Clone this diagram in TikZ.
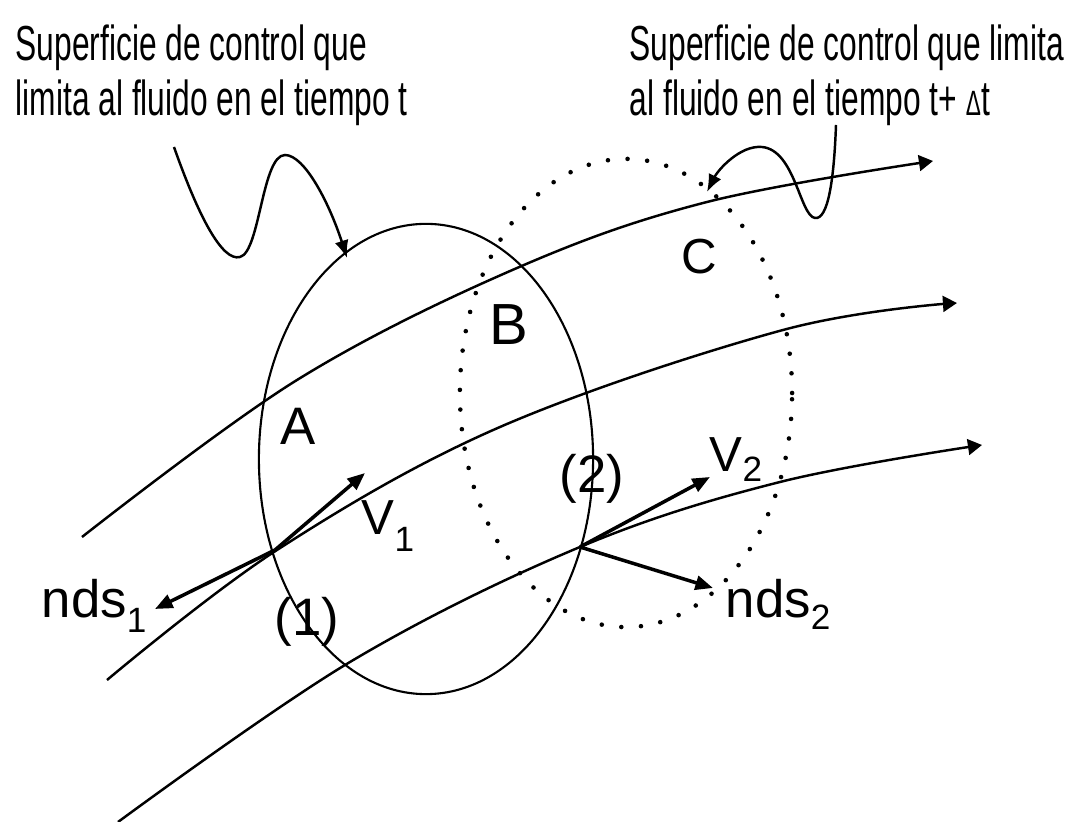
\documentclass[tikz,border=0pt]{standalone}
\usepackage{fontspec}
\setmainfont{Liberation Sans}
\newfontfamily\estrecha[FakeStretch=0.645]{Liberation Sans}
\usetikzlibrary{arrows.meta}
\newcommand{\subi}[2][4pt]{\raisebox{-#1}{\fontsize{10}{12}\selectfont #2}}

\begin{document}
\begin{tikzpicture}[x=0.01cm, y=-0.01cm,
  nota/.style={anchor=north west, inner sep=0pt, align=left,
    font=\estrecha\fontsize{14}{15.8}\selectfont},
  etiqueta/.style={inner sep=0pt, anchor=base, font=\fontsize{15}{18}\selectfont},
  linea/.style={line width=0.7pt, -{Triangle[length=4pt,width=4.5pt]}},
  vector/.style={line width=1pt, -{Triangle[length=5pt,width=4pt]}},
  indicador/.style={line width=0.7pt, -{Latex[length=5pt,width=4pt]}},
  superficie/.style={line width=0.6pt},
  punteada/.style={line width=1.3pt, line cap=round, dash pattern=on 0pt off 5.6pt}
]
\useasboundingbox (0,0) rectangle (1078,822);

\node[nota] (textoT) at (15,24) {Superficie de control que\\limita al fluido en el tiempo t};
\node[nota] (textoDT) at (629,24) {Superficie de control que limita\\al fluido en el tiempo t+ {\fontsize{10}{12}\selectfont Δ}t};

\draw[superficie] (426,459) ellipse [x radius=1.67cm, y radius=2.35cm];
\draw[punteada] (626,393) ellipse [x radius=1.66cm, y radius=2.34cm];

\draw[linea] plot[smooth, tension=0.6] coordinates {(82,537) (297,380) (517,268) (707,202) (933,161)};
\draw[linea] plot[smooth, tension=0.6] coordinates {(107,680) (277,550) (500,427) (783,330) (957,303)};
\draw[linea] plot[smooth, tension=0.6] coordinates {(118,822) (350,662) (580,547) (780,482) (982,445)};

\coordinate (iniT) at (174,147);
\coordinate (finT) at (347,258);
\draw[indicador] (iniT) .. controls (198,215) and (222,262) .. (240,257)
  .. controls (260,252) and (262,155) .. (285,155)
  .. controls (305,155) and (330,205) .. (finT);
\coordinate (iniDT) at (836,125);
\coordinate (finDT) at (707,192);
\draw[indicador] (iniDT) .. controls (834,180) and (828,220) .. (815,218)
  .. controls (800,216) and (795,150) .. (762,147)
  .. controls (740,145) and (718,170) .. (finDT);

\coordinate (p1) at (275,550);
\coordinate (p2) at (580,547);
\coordinate (v1fin) at (365,473);
\coordinate (n1fin) at (155,609);
\coordinate (v2fin) at (710,477);
\coordinate (n2fin) at (713,588);
\draw[vector] (p1) -- (v1fin);
\draw[vector] (p1) -- (n1fin);
\draw[vector] (p2) -- (v2fin);
\draw[vector] (p2) -- (n2fin);

\node[etiqueta] (regA) at (298,445) {A};
\node[etiqueta, font=\fontsize{16.5}{20}\selectfont] (regB) at (509,345) {B};
\node[etiqueta, font=\fontsize{14}{17}\selectfont] (regC) at (699,274) {C};
\node[etiqueta] (sec1) at (307,636) {(1)};
\node[etiqueta] (sec2) at (592,493) {(2)};
\node[etiqueta, anchor=base west, font=\fontsize{14}{17}\selectfont] (v1) at (361,535) {V\subi[4.8pt]{1}};
\node[etiqueta, anchor=base west, font=\fontsize{14}{17}\selectfont] (v2) at (709,472) {V\subi[2.8pt]{2}};
\node[etiqueta, anchor=base west] (nds1) at (41,618) {nds\subi{1}};
\node[etiqueta, anchor=base west] (nds2) at (725,618) {nds\subi[3.4pt]{2}};
\end{tikzpicture}
\end{document}
